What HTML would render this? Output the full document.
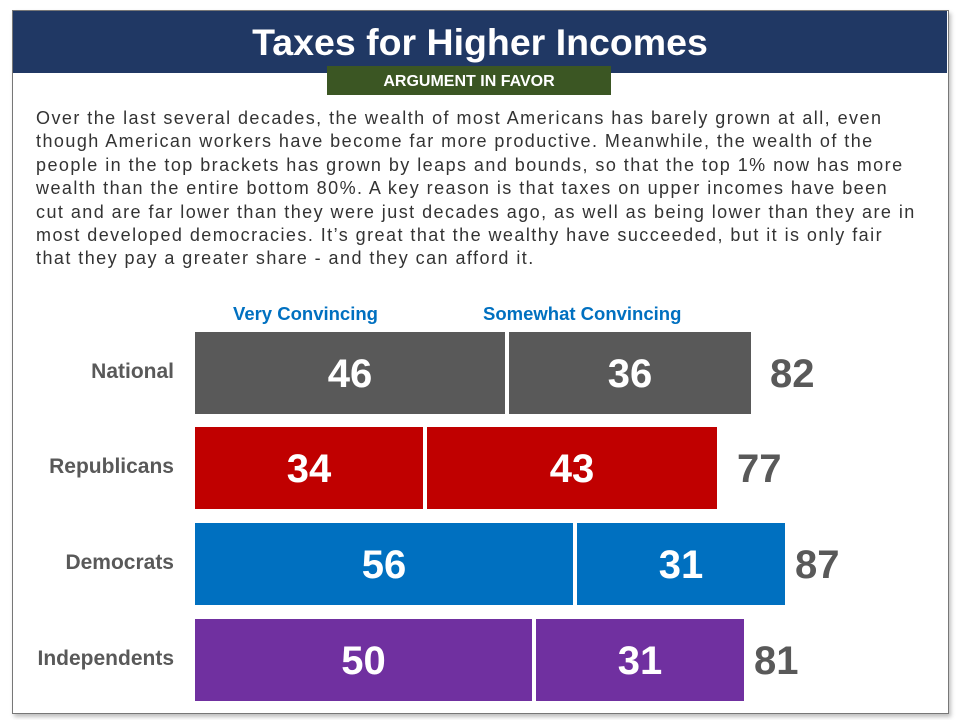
<!DOCTYPE html>
<html><head><meta charset="utf-8"><style>
body{margin:0;width:960px;height:720px;background:#fff;position:relative;font-family:"Liberation Sans",sans-serif;overflow:hidden}
.frame{position:absolute;left:12px;top:10px;width:935px;height:702px;border:1px solid #777;box-shadow:2px 3px 4px rgba(0,0,0,.25)}
.hdr{position:absolute;left:13px;top:11px;width:934px;height:62px;background:#203864;color:#fff;text-align:center;font-weight:bold;font-size:37.5px;line-height:62px}
.grn{position:absolute;left:327px;top:66px;width:284px;height:29px;background:#3b5623;color:#fff;text-align:center;font-weight:bold;font-size:16px;line-height:31px}
.p{position:absolute;left:36px;top:107px;font-size:18px;letter-spacing:1.45px;line-height:23.4px;color:#333}
.p span{display:block;white-space:nowrap}
.lg{position:absolute;top:303px;color:#0070c0;font-weight:bold;font-size:18.5px}
.lab{position:absolute;left:0;width:174px;text-align:right;color:#595959;font-weight:bold;font-size:21px}
.b{position:absolute;height:82px;color:#fff;font-weight:bold;font-size:40px;line-height:84px;text-align:center}
.t{position:absolute;color:#595959;font-weight:bold;font-size:40px;line-height:84px}
</style></head><body>
<div class="frame"></div>
<div class="hdr">Taxes for Higher Incomes</div>
<div class="grn">ARGUMENT IN FAVOR</div>
<div class="p">
<span>Over the last several decades, the wealth of most Americans has barely grown at all, even</span>
<span>though American workers have become far more productive. Meanwhile, the wealth of the</span>
<span>people in the top brackets has grown by leaps and bounds, so that the top 1% now has more</span>
<span>wealth than the entire bottom 80%. A key reason is that taxes on upper incomes have been</span>
<span>cut and are far lower than they were just decades ago, as well as being lower than they are in</span>
<span>most developed democracies. It’s great that the wealthy have succeeded, but it is only fair</span>
<span>that they pay a greater share - and they can afford it.</span>
</div>
<div class="lg" style="left:233px">Very Convincing</div>
<div class="lg" style="left:483px">Somewhat Convincing</div>

<div class="lab" style="top:360px">National</div>
<div class="b" style="top:332px;left:195px;width:310px;background:#595959">46</div>
<div class="b" style="top:332px;left:509px;width:242px;background:#595959">36</div>
<div class="t" style="top:332px;left:770px">82</div>

<div class="lab" style="top:455px">Republicans</div>
<div class="b" style="top:427px;left:195px;width:228px;background:#c00000">34</div>
<div class="b" style="top:427px;left:427px;width:290px;background:#c00000">43</div>
<div class="t" style="top:427px;left:737px">77</div>

<div class="lab" style="top:551px">Democrats</div>
<div class="b" style="top:523px;left:195px;width:378px;background:#0070c0">56</div>
<div class="b" style="top:523px;left:577px;width:208px;background:#0070c0">31</div>
<div class="t" style="top:523px;left:795px">87</div>

<div class="lab" style="top:647px">Independents</div>
<div class="b" style="top:619px;left:195px;width:337px;background:#7030a0">50</div>
<div class="b" style="top:619px;left:536px;width:208px;background:#7030a0">31</div>
<div class="t" style="top:619px;left:754px">81</div>
</body></html>
